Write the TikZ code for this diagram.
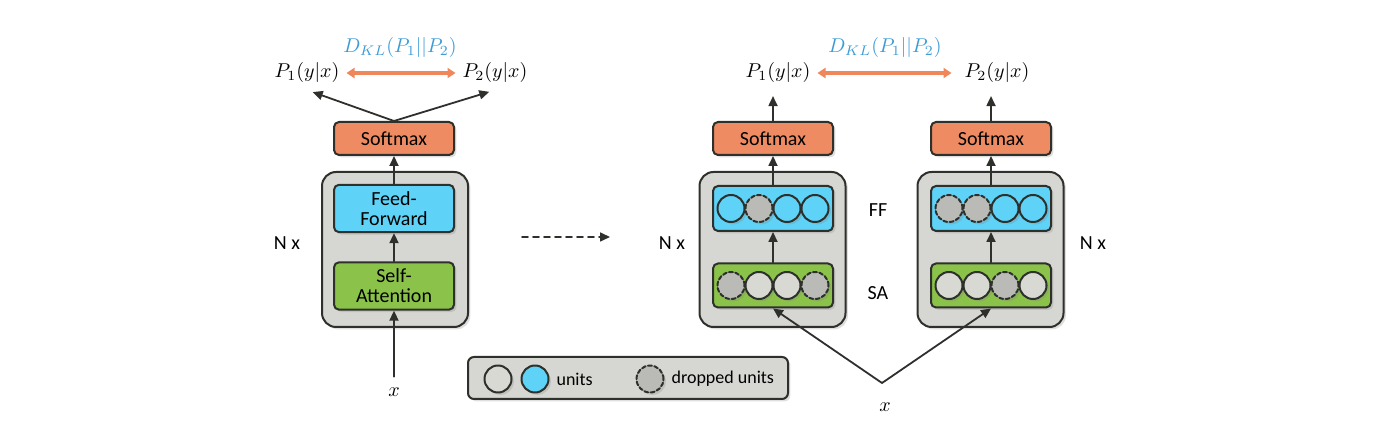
\documentclass[tikz,border=0pt]{standalone}
\usepackage{fontspec}
\setmainfont{Carlito}
\usetikzlibrary{arrows.meta,shadows,positioning}

\definecolor{smax}{HTML}{EE8B63}
\definecolor{ffblue}{HTML}{5ED2F7}
\definecolor{sagreen}{HTML}{8BC34A}
\definecolor{layergray}{HTML}{D6D6D2}
\definecolor{unitgray}{HTML}{D9D9D3}
\definecolor{dropgray}{HTML}{BABAB6}
\definecolor{dkl}{HTML}{3D9BD6}
\definecolor{linedark}{HTML}{2E302C}
\definecolor{klarrow}{HTML}{F0875A}

\tikzset{
  shade/.style={drop shadow={opacity=0.25, shadow xshift=1.2pt, shadow yshift=-1.2pt}},
  box/.style={draw=linedark, line width=1pt, rounded corners=2.5pt, minimum width=60pt, shade, align=center},
  outer/.style={draw=linedark, fill=layergray, line width=1pt, rounded corners=7pt, minimum width=73pt, minimum height=77.5pt, shade},
  unit/.style={circle, draw=linedark, line width=1pt, minimum size=13.5pt, inner sep=0pt, shade},
  gunit/.style={unit, fill=unitgray},
  bunit/.style={unit, fill=ffblue},
  dunit/.style={unit, fill=dropgray, dash pattern=on 2pt off 1.2pt},
  arr/.style={draw=linedark, line width=0.9pt, -{Triangle[length=5pt,width=4.5pt]}},
  klarr/.style={draw=klarrow, line width=1.8pt, {Triangle[length=4pt,width=5pt]}-{Triangle[length=4pt,width=5pt]}},
}

\begin{document}
\begin{tikzpicture}[x=0.5pt, y=-0.5pt, line cap=round, line join=round]
    \useasboundingbox (0,0) rectangle (1400,431);

    % left: one model
    \node[outer] (layerL) at (395,249.5) {};
    \node[box, fill=ffblue, minimum height=22.5pt] (ffL) at (394,208.5) {Feed-\\[-2pt]Forward};
    \node[box, fill=sagreen, minimum height=22pt] (saL) at (394,286) {Self-\\[-2pt]Attention};
    \node[box, fill=smax, minimum height=16.5pt] (smL) at (394,138.5) {Softmax};
    \node (xL) at (394,392) {$x$};
    \node (p1L) at (307,73) {$P_1(y|x)$};
    \node (p2L) at (495,73) {$P_2(y|x)$};
    \node[text=dkl] (klL) at (400,48) {$D_{KL}(P_1||P_2)$};
    \node (nL) at (287,243) {N x};

    \draw[arr, shorten <=2pt] (xL) -- (saL);
    \draw[arr] (saL) -- (ffL);
    \draw[arr] (ffL) -- (smL);
    \draw[arr, shorten >=3pt] (smL.north) -- (p1L.south);
    \draw[arr, shorten >=3pt] (smL.north) -- (p2L.south);
    \draw[klarr] (p1L) -- (p2L);

    \coordinate (dashA) at (522,237);
    \coordinate (dashB) at (610,237);
    \draw[arr, line width=0.8pt, dash pattern=on 3pt off 2.5pt] (dashA) -- (dashB);

    % right: two passes with dropout
    \node[outer] (layerA) at (772.5,249.5) {};
    \node[outer] (layerB) at (990.5,249.5) {};
    \node[box, fill=ffblue, minimum height=22.5pt] (ffA) at (773,208.5) {};
    \node[box, fill=sagreen, minimum height=22pt] (saA) at (773,285.5) {};
    \node[box, fill=ffblue, minimum height=22.5pt] (ffB) at (991,208.5) {};
    \node[box, fill=sagreen, minimum height=22pt] (saB) at (991,285.5) {};
    \node[box, fill=smax, minimum height=16.5pt] (smA) at (773,138.5) {Softmax};
    \node[box, fill=smax, minimum height=16.5pt] (smB) at (991,138.5) {Softmax};

    \foreach \k/\s in {1/bunit,2/dunit,3/bunit,4/bunit}
      \node[\s] (ffA\k) at ([xshift=\k*14pt-35pt]ffA.center) {};
    \foreach \k/\s in {1/dunit,2/gunit,3/gunit,4/dunit}
      \node[\s] (saA\k) at ([xshift=\k*14pt-35pt]saA.center) {};
    \foreach \k/\s in {1/dunit,2/dunit,3/bunit,4/bunit}
      \node[\s] (ffB\k) at ([xshift=\k*14pt-35pt]ffB.center) {};
    \foreach \k/\s in {1/gunit,2/gunit,3/dunit,4/gunit}
      \node[\s] (saB\k) at ([xshift=\k*14pt-35pt]saB.center) {};

    \node (ffLab) at (878,210) {FF};
    \node (saLab) at (878,293) {SA};
    \node (nA) at (672,243) {N x};
    \node (nB) at (1093,243) {N x};
    \node (p1R) at (778,73) {$P_1(y|x)$};
    \node (p2R) at (997,73) {$P_2(y|x)$};
    \node[text=dkl] (klR) at (885,48) {$D_{KL}(P_1||P_2)$};
    \node (xR) at (885,407) {$x$};
    \coordinate (vtx) at (882,383);

    \draw[arr] (vtx) -- (saA.south);
    \draw[arr] (vtx) -- (saB.south);
    \draw[arr] (saA) -- (ffA);
    \draw[arr] (saB) -- (ffB);
    \draw[arr] (ffA) -- (smA);
    \draw[arr] (ffB) -- (smB);
    \draw[arr, shorten >=3pt] (smA.north) -- (smA.north |- p1R.south);
    \draw[arr, shorten >=3pt] (smB.north) -- (smB.north |- p2R.south);
    \draw[klarr, shorten >=3pt] (p1R) -- (p2R);

    % legend
    \node[draw=linedark, fill=layergray, line width=1pt, rounded corners=3pt, minimum width=160pt, minimum height=21pt, shade] (leg) at (628,378) {};
    \node[gunit] (lg1) at (498,379) {};
    \node[bunit] (lg2) at (535,379) {};
    \node[right=0pt of lg2, font=\small] (lgu) {units};
    \node[dunit] (lg3) at (650,379) {};
    \node[right=0pt of lg3, font=\small] (lgd) {dropped units};

\end{tikzpicture}
\end{document}
